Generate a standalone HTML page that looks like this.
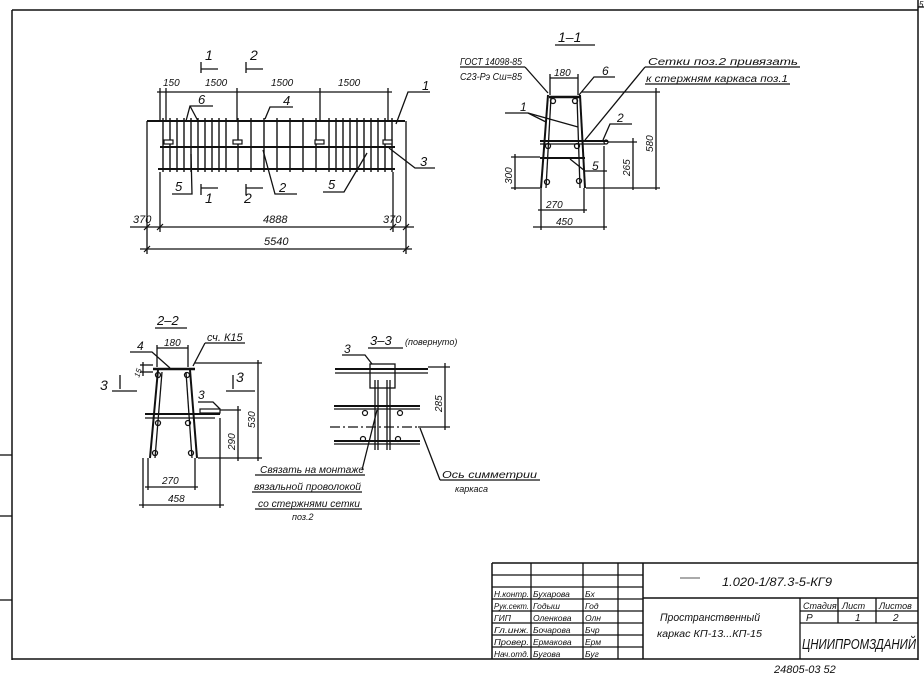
<!DOCTYPE html>
<html><head><meta charset="utf-8"><style>
html,body{margin:0;padding:0;background:#fff;}
svg{display:block;}
text{font-family:"Liberation Sans",sans-serif;font-style:italic;fill:#111;}
</style></head><body>
<svg width="924" height="675" viewBox="0 0 924 675" xmlns="http://www.w3.org/2000/svg">
<g stroke="#111" fill="none" stroke-width="1.3">
<!-- frame -->
<line x1="12" y1="10" x2="918" y2="10" stroke-width="1.5"/>
<line x1="12" y1="10" x2="12" y2="660" stroke-width="1.5"/>
<line x1="918" y1="0" x2="918" y2="660" stroke-width="1.5"/>
<line x1="12" y1="659" x2="918" y2="659" stroke-width="1.5"/>
<line x1="0" y1="455" x2="12" y2="455"/><line x1="0" y1="516" x2="12" y2="516"/><line x1="0" y1="600" x2="12" y2="600"/>
<line x1="918" y1="7" x2="924" y2="7"/>

<!-- ===== plan view ===== -->
<line x1="147" y1="121" x2="405" y2="121" stroke-width="2"/>
<line x1="160" y1="147" x2="395" y2="147" stroke-width="2"/>
<line x1="158" y1="169" x2="395" y2="169" stroke-width="2"/>
<g stroke-width="1.4">
<line x1="163" y1="118" x2="163" y2="172"/><line x1="170" y1="118" x2="170" y2="172"/><line x1="177" y1="118" x2="177" y2="172"/><line x1="184" y1="118" x2="184" y2="172"/><line x1="191" y1="118" x2="191" y2="172"/><line x1="198" y1="118" x2="198" y2="172"/><line x1="205" y1="118" x2="205" y2="172"/><line x1="212" y1="118" x2="212" y2="172"/><line x1="219" y1="118" x2="219" y2="172"/><line x1="226" y1="118" x2="226" y2="172"/>
<line x1="238" y1="118" x2="238" y2="172"/><line x1="251" y1="118" x2="251" y2="172"/><line x1="264" y1="118" x2="264" y2="172"/><line x1="277" y1="118" x2="277" y2="172"/><line x1="290" y1="118" x2="290" y2="172"/><line x1="303" y1="118" x2="303" y2="172"/><line x1="316" y1="118" x2="316" y2="172"/>
<line x1="329" y1="118" x2="329" y2="172"/><line x1="336" y1="118" x2="336" y2="172"/><line x1="343" y1="118" x2="343" y2="172"/><line x1="350" y1="118" x2="350" y2="172"/><line x1="357" y1="118" x2="357" y2="172"/><line x1="364" y1="118" x2="364" y2="172"/><line x1="371" y1="118" x2="371" y2="172"/><line x1="378" y1="118" x2="378" y2="172"/><line x1="385" y1="118" x2="385" y2="172"/><line x1="392" y1="118" x2="392" y2="172"/>
</g>
<g fill="#fff" stroke-width="1.2">
<rect x="164" y="140" width="9" height="4"/><rect x="233" y="140" width="9" height="4"/><rect x="315" y="140" width="9" height="4"/><rect x="383" y="140" width="9" height="4"/>
</g>
<line x1="157" y1="92" x2="392" y2="92"/>
<line x1="160" y1="88" x2="160" y2="121"/><line x1="166" y1="88" x2="166" y2="121"/><line x1="237" y1="88" x2="237" y2="121"/><line x1="320" y1="88" x2="320" y2="121"/><line x1="388" y1="88" x2="388" y2="121"/>
<line x1="147" y1="121" x2="147" y2="254"/><line x1="406" y1="121" x2="406" y2="254"/>
<line x1="160" y1="172" x2="160" y2="232"/><line x1="393" y1="172" x2="393" y2="232"/>
<line x1="130" y1="227" x2="414" y2="227"/>
<line x1="140" y1="249" x2="412" y2="249"/>
<g stroke-width="1.2"><line x1="144" y1="230" x2="150" y2="224"/><line x1="157" y1="230" x2="163" y2="224"/><line x1="390" y1="230" x2="396" y2="224"/><line x1="403" y1="230" x2="409" y2="224"/><line x1="144" y1="252" x2="150" y2="246"/><line x1="403" y1="252" x2="409" y2="246"/></g>
<polyline points="201,62 201,73"/><line x1="201" y1="69" x2="218" y2="69"/>
<polyline points="246,62 246,73"/><line x1="246" y1="69" x2="263" y2="69"/>
<polyline points="201,184 201,195"/><line x1="201" y1="188" x2="218" y2="188"/>
<polyline points="246,184 246,195"/><line x1="246" y1="188" x2="263" y2="188"/>
<polyline points="430,92 408,92 396,124"/>
<polyline points="213,106 190,106 186,121"/><line x1="190" y1="106" x2="198" y2="121"/>
<polyline points="293,107 270,107 265,119"/>
<polyline points="435,168 415,168 389,148"/>
<polyline points="172,194 192,194 191,154"/>
<polyline points="297,194 275,194 263,150"/>
<polyline points="323,192 344,192 367,153"/>

<!-- ===== 1-1 ===== -->
<line x1="555" y1="45" x2="595" y2="45" stroke-width="1.2"/>
<line x1="549" y1="97" x2="580" y2="97" stroke-width="2.5"/>
<polyline points="548,95 541,188" stroke-width="2"/><polyline points="551,97 546,188"/>
<polyline points="580,95 585,188" stroke-width="2"/><polyline points="577,97 580,188"/>
<line x1="540" y1="141" x2="608" y2="141" stroke-width="2"/><line x1="540" y1="144" x2="605" y2="144"/>
<line x1="540" y1="158" x2="585" y2="158" stroke-width="2"/>
<g stroke-width="1.3"><circle cx="553" cy="101" r="2.5"/><circle cx="575" cy="101" r="2.5"/><circle cx="548" cy="146" r="2.5"/><circle cx="577" cy="146" r="2.5"/><circle cx="547" cy="182" r="2.5"/><circle cx="579" cy="181" r="2.5"/><circle cx="606" cy="142" r="2"/></g>
<line x1="550" y1="78" x2="578" y2="78"/><line x1="550" y1="74" x2="550" y2="95"/><line x1="578" y1="74" x2="578" y2="95"/>
<line x1="582" y1="92" x2="660" y2="92"/><line x1="656" y1="88" x2="656" y2="190"/>
<line x1="608" y1="142" x2="637" y2="142"/><line x1="633" y1="138" x2="633" y2="190"/>
<line x1="586" y1="188" x2="660" y2="188"/>
<line x1="511" y1="157" x2="540" y2="157"/><line x1="511" y1="188" x2="540" y2="188"/><line x1="515" y1="154" x2="515" y2="190"/>
<line x1="541" y1="188" x2="541" y2="230"/><line x1="584" y1="188" x2="584" y2="213"/><line x1="604" y1="146" x2="604" y2="230"/>
<line x1="538" y1="210" x2="587" y2="210"/><line x1="533" y1="227" x2="607" y2="227"/>
<line x1="460" y1="67" x2="525" y2="67"/><line x1="525" y1="67" x2="548" y2="93"/>
<polyline points="615,77 594,77 579,95"/>
<line x1="645" y1="67" x2="800" y2="67"/><line x1="645" y1="84" x2="790" y2="84"/><line x1="645" y1="67" x2="585" y2="140"/>
<polyline points="505,113 528,113 546,122"/><line x1="528" y1="113" x2="578" y2="127"/>
<polyline points="632,124 610,124 603,140"/>
<polyline points="607,171 585,171 570,159"/>

<!-- ===== 2-2 ===== -->
<line x1="155" y1="328" x2="187" y2="328" stroke-width="1.2"/>
<line x1="153" y1="369" x2="195" y2="369" stroke-width="2.5"/>
<polyline points="158,370 150,458" stroke-width="2"/><polyline points="162,372 155,458"/>
<polyline points="190,370 197,458" stroke-width="2"/><polyline points="186,372 192,458"/>
<line x1="145" y1="414" x2="220" y2="414" stroke-width="2"/><line x1="145" y1="418" x2="215" y2="418"/>
<rect x="200" y="409" width="20" height="4" stroke-width="1.2"/>
<g stroke-width="1.3"><circle cx="158" cy="375" r="2.5"/><circle cx="187" cy="375" r="2.5"/><circle cx="158" cy="423" r="2.5"/><circle cx="188" cy="423" r="2.5"/><circle cx="155" cy="453" r="2.5"/><circle cx="191" cy="453" r="2.5"/></g>
<line x1="157" y1="348" x2="188" y2="348"/><line x1="157" y1="345" x2="157" y2="367"/><line x1="188" y1="345" x2="188" y2="367"/>
<polyline points="130,352 152,352 170,368"/>
<line x1="205" y1="343" x2="245" y2="343"/><line x1="205" y1="343" x2="193" y2="366"/>
<line x1="143" y1="362" x2="143" y2="376"/><line x1="140" y1="365" x2="153" y2="365"/><line x1="140" y1="372" x2="153" y2="372"/>
<line x1="112" y1="391" x2="137" y2="391"/><line x1="120" y1="375" x2="120" y2="389"/>
<line x1="226" y1="391" x2="255" y2="391"/><line x1="233" y1="375" x2="233" y2="389"/>
<line x1="195" y1="363" x2="262" y2="363"/><line x1="198" y1="458" x2="262" y2="458"/><line x1="258" y1="360" x2="258" y2="461"/>
<line x1="220" y1="410" x2="241" y2="410"/><line x1="238" y1="406" x2="238" y2="461"/>
<polyline points="198,402 213,402 220,409"/>
<line x1="148" y1="458" x2="148" y2="490"/><line x1="195" y1="458" x2="195" y2="490"/><line x1="143" y1="458" x2="143" y2="508"/><line x1="220" y1="418" x2="220" y2="508"/>
<line x1="145" y1="487" x2="198" y2="487"/><line x1="139" y1="505" x2="224" y2="505"/>

<!-- ===== 3-3 ===== -->
<line x1="368" y1="348" x2="403" y2="348" stroke-width="1.2"/>
<polyline points="342,355 365,355 372,364"/>
<rect x="370" y="364" width="25" height="24" stroke-width="1.3"/>
<line x1="335" y1="369" x2="428" y2="369" stroke-width="2"/><line x1="335" y1="373" x2="428" y2="373"/>
<line x1="334" y1="406" x2="420" y2="406" stroke-width="2"/><line x1="334" y1="409" x2="420" y2="409"/>
<line x1="334" y1="441" x2="420" y2="441" stroke-width="2"/><line x1="334" y1="444" x2="420" y2="444"/>
<line x1="375" y1="380" x2="375" y2="450"/><line x1="378" y1="380" x2="378" y2="450"/><line x1="387" y1="380" x2="387" y2="450"/><line x1="390" y1="380" x2="390" y2="450"/>
<g stroke-width="1.2"><circle cx="365" cy="413" r="2.5"/><circle cx="400" cy="413" r="2.5"/><circle cx="363" cy="439" r="2.5"/><circle cx="398" cy="439" r="2.5"/></g>
<line x1="330" y1="427" x2="418" y2="427" stroke-dasharray="10,3,2,3"/>
<line x1="428" y1="367" x2="450" y2="367"/><line x1="418" y1="427" x2="450" y2="427"/><line x1="445" y1="363" x2="445" y2="430"/>
<line x1="362" y1="470" x2="377" y2="410"/>
<line x1="255" y1="475" x2="365" y2="475"/><line x1="252" y1="492" x2="362" y2="492"/><line x1="255" y1="509" x2="362" y2="509"/>
<line x1="440" y1="480" x2="540" y2="480"/><line x1="440" y1="480" x2="420" y2="428"/>

<!-- ===== title block ===== -->
<line x1="492" y1="563" x2="918" y2="563" stroke-width="1.5"/>
<line x1="492" y1="563" x2="492" y2="659" stroke-width="1.5"/>
<line x1="531" y1="563" x2="531" y2="659"/><line x1="583" y1="563" x2="583" y2="659"/><line x1="618" y1="563" x2="618" y2="659"/>
<line x1="643" y1="563" x2="643" y2="659" stroke-width="1.5"/>
<line x1="492" y1="575" x2="643" y2="575"/><line x1="492" y1="587" x2="643" y2="587"/><line x1="492" y1="599" x2="643" y2="599"/><line x1="492" y1="611" x2="643" y2="611"/><line x1="492" y1="623" x2="643" y2="623"/><line x1="492" y1="635" x2="643" y2="635"/><line x1="492" y1="647" x2="643" y2="647"/>
<line x1="643" y1="598" x2="918" y2="598" stroke-width="1.5"/>
<line x1="800" y1="598" x2="800" y2="659" stroke-width="1.3"/>
<line x1="800" y1="611" x2="918" y2="611"/><line x1="800" y1="623" x2="918" y2="623"/>
<line x1="838" y1="598" x2="838" y2="623"/><line x1="876" y1="598" x2="876" y2="623"/>
<line x1="680" y1="578" x2="700" y2="578" stroke="#777"/>
</g>

<g font-size="11">
<text x="205" y="60" font-size="14">1</text><text x="250" y="60" font-size="14">2</text>
<text x="205" y="203" font-size="14">1</text><text x="244" y="203" font-size="14">2</text>
<text x="163" y="86" font-size="10">150</text>
<text x="205" y="86" font-size="10">1500</text><text x="271" y="86" font-size="10">1500</text><text x="338" y="86" font-size="10">1500</text>
<text x="133" y="223">370</text><text x="263" y="223">4888</text><text x="383" y="223">370</text>
<text x="264" y="245">5540</text>
<text x="422" y="90" font-size="13">1</text><text x="198" y="104" font-size="13">6</text><text x="283" y="105" font-size="13">4</text>
<text x="420" y="166" font-size="13">3</text><text x="175" y="191" font-size="13">5</text><text x="279" y="192" font-size="13">2</text><text x="328" y="189" font-size="13">5</text>
<text x="558" y="42" font-size="14">1–1</text>
<text x="460" y="65" font-size="10" textLength="62" lengthAdjust="spacingAndGlyphs">ГОСТ 14098-85</text>
<text x="460" y="80" font-size="10" textLength="62" lengthAdjust="spacingAndGlyphs">С23-Рэ Cш=85</text>
<text x="554" y="76" font-size="10">180</text>
<text x="602" y="75" font-size="12">6</text>
<text x="648" y="65" font-size="10" textLength="150" lengthAdjust="spacingAndGlyphs">Сетки поз.2 привязать</text>
<text x="646" y="82" font-size="10" textLength="142" lengthAdjust="spacingAndGlyphs">к стержням каркаса поз.1</text>
<text x="520" y="111" font-size="12">1</text><text x="617" y="122" font-size="12">2</text><text x="592" y="170" font-size="12">5</text>
<text x="546" y="208" font-size="10">270</text><text x="556" y="225" font-size="10">450</text>
<text transform="translate(653,152) rotate(-90)" font-size="10">580</text>
<text transform="translate(630,176) rotate(-90)" font-size="10">265</text>
<text transform="translate(512,184) rotate(-90)" font-size="10">300</text>
<text x="157" y="325" font-size="13">2–2</text>
<text x="164" y="346" font-size="10">180</text>
<text x="137" y="350" font-size="12">4</text>
<text x="207" y="341" font-size="11">сч. К15</text>
<text x="100" y="390" font-size="14">3</text><text x="236" y="382" font-size="14">3</text>
<text x="198" y="399" font-size="12">3</text>
<text transform="translate(139,378) rotate(-70)" font-size="8">15</text>
<text transform="translate(255,428) rotate(-90)" font-size="10">530</text>
<text transform="translate(235,450) rotate(-90)" font-size="10">290</text>
<text x="162" y="484" font-size="10">270</text><text x="168" y="502" font-size="10">458</text>
<text x="370" y="345" font-size="13">3–3</text><text x="405" y="345" font-size="9">(повернуто)</text>
<text x="344" y="353" font-size="12">3</text>
<text transform="translate(442,412) rotate(-90)" font-size="10">285</text>
<text x="260" y="473" font-size="10" textLength="104" lengthAdjust="spacingAndGlyphs">Связать на монтаже</text>
<text x="254" y="490" font-size="10" textLength="107" lengthAdjust="spacingAndGlyphs">вязальной проволокой</text>
<text x="258" y="507" font-size="10" textLength="102" lengthAdjust="spacingAndGlyphs">со стержнями сетки</text>
<text x="292" y="520" font-size="9">поз.2</text>
<text x="442" y="478" font-size="10" textLength="95" lengthAdjust="spacingAndGlyphs">Ось симметрии</text>
<text x="455" y="492" font-size="9">каркаса</text>
<g font-size="8.5">
<text x="494" y="597" textLength="35" lengthAdjust="spacingAndGlyphs">Н.контр.</text><text x="533" y="597">Бухарова</text>
<text x="494" y="609" textLength="35" lengthAdjust="spacingAndGlyphs">Рук.сект.</text><text x="533" y="609">Годыш</text>
<text x="494" y="621">ГИП</text><text x="533" y="621">Оленкова</text>
<text x="494" y="633" textLength="35" lengthAdjust="spacingAndGlyphs">Гл.инж.</text><text x="533" y="633">Бочарова</text>
<text x="494" y="645" textLength="35" lengthAdjust="spacingAndGlyphs">Провер.</text><text x="533" y="645">Ермакова</text>
<text x="494" y="657" textLength="35" lengthAdjust="spacingAndGlyphs">Нач.отд.</text><text x="533" y="657">Бугова</text>
<text x="585" y="597">Бх</text><text x="585" y="609">Год</text><text x="585" y="621">Олн</text><text x="585" y="633">Бчр</text><text x="585" y="645">Ерм</text><text x="585" y="657">Буг</text>
</g>
<text x="722" y="586" font-size="12" textLength="110" lengthAdjust="spacingAndGlyphs">1.020-1/87.3-5-КГ9</text>
<text x="660" y="621" font-size="11" textLength="100" lengthAdjust="spacingAndGlyphs">Пространственный</text>
<text x="657" y="637" font-size="10" textLength="105" lengthAdjust="spacingAndGlyphs">каркас     КП-13...КП-15</text>
<text x="803" y="609" font-size="9">Стадия</text><text x="842" y="609" font-size="9">Лист</text><text x="879" y="609" font-size="9">Листов</text>
<text x="806" y="621" font-size="10">Р</text><text x="855" y="621" font-size="10">1</text><text x="893" y="621" font-size="10">2</text>
<text x="802" y="649" font-size="15" font-style="normal" textLength="114" lengthAdjust="spacingAndGlyphs">ЦНИИПРОМЗДАНИЙ</text>
<text x="774" y="673" font-size="11" fill="#444">24805-03   52</text>
<text x="919" y="7" font-size="8">5</text>
</g>
</svg>
</body></html>
